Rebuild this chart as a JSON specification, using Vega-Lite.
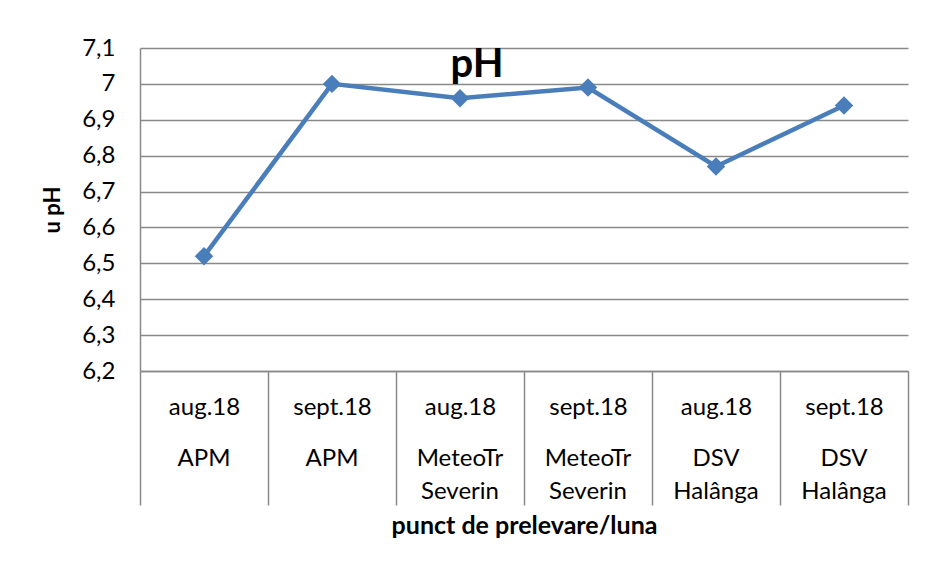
{
  "$schema": "https://vega.github.io/schema/vega-lite/v6.json",
  "width": 768,
  "height": 323,
  "autosize": "none",
  "padding": {"left": 140, "top": 48, "right": 25, "bottom": 192},
  "background": "white",
  "title": {
    "text": "pH",
    "font": "Lato",
    "fontSize": 40,
    "fontWeight": "bold",
    "color": "#000000",
    "frame": "group",
    "anchor": "middle",
    "orient": "top",
    "dx": -47,
    "dy": 81,
    "offset": 0,
    "baseline": "alphabetic"
  },
  "config": {
    "view": {"stroke": null},
    "axis": {
      "labelFont": "Lato",
      "labelFontSize": 24,
      "labelColor": "#000000",
      "titleFont": "Lato",
      "titleColor": "#000000",
      "titleFontWeight": "bold",
      "domainColor": "#898989",
      "domainWidth": 1.5,
      "gridColor": "#898989",
      "gridWidth": 1.3,
      "tickColor": "#898989",
      "tickWidth": 1.5
    }
  },
  "data": {
    "values": [
      {"categorie": "aug.18|APM", "pH": 6.52},
      {"categorie": "sept.18|APM", "pH": 7.0},
      {"categorie": "aug.18|MeteoTr Severin", "pH": 6.96},
      {"categorie": "sept.18|MeteoTr Severin", "pH": 6.99},
      {"categorie": "aug.18|DSV Halânga", "pH": 6.77},
      {"categorie": "sept.18|DSV Halânga", "pH": 6.94}
    ]
  },
  "encoding": {
    "y": {
      "field": "pH",
      "type": "quantitative",
      "scale": {"domain": [6.2, 7.1], "nice": false, "zero": false},
      "axis": {
        "title": "u pH",
        "titleFontSize": 22,
        "titlePadding": 17,
        "values": [6.2, 6.3, 6.4, 6.5, 6.6, 6.7, 6.8, 6.9, 7.0, 7.1],
        "labelExpr": "replace(format(datum.value, '.1~f'), '.', ',')",
        "ticks": false,
        "labelPadding": 25,
        "grid": true,
        "domain": true
      }
    }
  },
  "layer": [
    {
      "mark": {"type": "line", "color": "#4a7ebb", "strokeWidth": 4.5},
      "encoding": {
        "x": {
          "field": "categorie",
          "type": "nominal",
          "sort": null,
          "scale": {"type": "band", "paddingInner": 0, "paddingOuter": 0},
          "axis": {
            "orient": "bottom",
            "title": "punct de prelevare/luna",
            "titleFontSize": 25,
            "titlePadding": 8,
            "labelAngle": 0,
            "labelBaseline": "top",
            "labelPadding": -110,
            "labelExpr": "isValid(datum.value) ? split(datum.value,'|')[0] : ''",
            "tickBand": "extent",
            "tickSize": 134,
            "grid": false,
            "domain": true,
            "labelOverlap": false
          }
        }
      }
    },
    {
      "mark": {"type": "point", "shape": "diamond", "filled": true, "size": 340, "color": "#4a7ebb", "opacity": 1},
      "encoding": {
        "x": {
          "field": "categorie",
          "type": "nominal",
          "sort": null,
          "scale": {"type": "band", "paddingInner": 0, "paddingOuter": 0},
          "axis": {
            "orient": "bottom",
            "title": null,
            "labelAngle": 0,
            "labelBaseline": "top",
            "labelLineHeight": 33,
            "labelPadding": 75,
            "labelExpr": "isValid(datum.value) ? split(split(datum.value,'|')[1],' ') : ''",
            "ticks": false,
            "grid": false,
            "domain": false,
            "labelOverlap": false
          }
        }
      }
    }
  ],
  "resolve": {"scale": {"x": "independent"}, "axis": {"x": "independent"}}
}
